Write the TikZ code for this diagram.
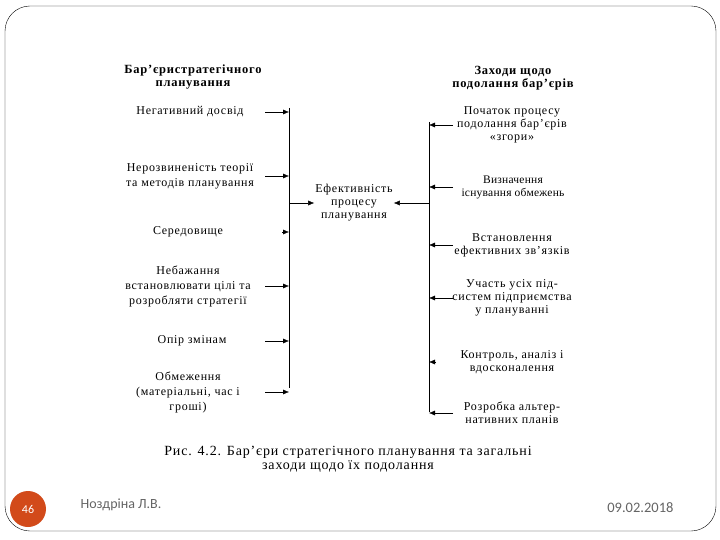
\documentclass[tikz,border=0pt]{standalone}
\usepackage{fontspec}
\setmainfont{Liberation Serif}
\newfontfamily\widefont[LetterSpace=6]{Liberation Serif}
\newfontfamily\tightfont[LetterSpace=2]{Liberation Serif}
\newfontfamily\footfont{Carlito}
\usetikzlibrary{arrows.meta,positioning}
\definecolor{slideorange}{RGB}{210,74,26}
\definecolor{footgray}{RGB}{100,100,100}

\begin{document}
\begin{tikzpicture}[
    x=1pt, y=-1pt,
    item/.style={align=center, font=\widefont\fontsize{12}{13}\selectfont, inner sep=1pt},
    litem/.style={item, font=\widefont\fontsize{12}{15}\selectfont},
    head/.style={item, font=\widefont\fontsize{12.5}{12.5}\selectfont\bfseries},
    arrow/.style={-{Latex[length=6pt,width=5pt]}, thin},
    bar/.style={thin},
  ]
  \useasboundingbox (0,0) rectangle (720,540);
  % slide frame
  \draw[thin, rounded corners=25pt] (5,6) rectangle (716,531);

  % barriers
  \node[head] (hl) at (193,77) {Бар’єристратегічного\\планування};
  \node[litem] (b1) at (190,112) {Негативний досвід};
  \node[litem] (b2) at (190,176) {Нерозвиненість теорії\\та методів планування};
  \node[litem] (b3) at (188,232) {Середовище};
  \node[litem] (b4) at (188,286) {Небажання\\встановлювати цілі та\\розробляти стратегії};
  \node[litem] (b5) at (192,341) {Опір змінам};
  \node[litem] (b6) at (188,392) {Обмеження\\(матеріальні, час і\\гроші)};

  % measures
  \node[head] (hr) at (513,78) {Заходи щодо\\подолання бар’єрів};
  \node[item] (m1) at (512,125) {Початок процесу\\подолання бар’єрів\\«згори»};
  \node[item, font=\tightfont\fontsize{11.5}{13}\selectfont] (m2) at (513,187) {Визначення\\існування обмежень};
  \node[item] (m3) at (512,245) {Встановлення\\ефективних зв’язків};
  \node[item] (m4) at (512,298) {Участь усіх під-\\систем підприємства\\у плануванні};
  \node[item] (m5) at (512,362) {Контроль, аналіз і\\вдосконалення};
  \node[item] (m6) at (512,413) {Розробка альтер-\\нативних планів};

  % effect
  \node[item] (eff) at (354,203) {Ефективність\\процесу\\планування};

  % collecting bars
  \coordinate (lt) at (289,108);
  \coordinate (lb) at (289,388);
  \coordinate (rt) at (429,122);
  \coordinate (rb) at (429,412);
  \coordinate (ltail) at (265,0);
  \coordinate (rtail) at (453,0);
  \draw[bar] (lt) -- (lb);
  \draw[bar] (rt) -- (rb);

  \draw[arrow] (b1.east -| ltail) -- (b1.east -| lt);
  \draw[arrow] (b2.east -| ltail) -- (b2.east -| lt);
  \draw[arrow] ([xshift=-7pt]b3.east -| lt) -- (b3.east -| lt);
  \draw[arrow] (b4.east -| ltail) -- (b4.east -| lt);
  \draw[arrow] (b5.east -| ltail) -- (b5.east -| lt);
  \draw[arrow] (b6.east -| ltail) -- (b6.east -| lt);

  \draw[arrow] (m1.west -| rtail) -- (m1.west -| rt);
  \draw[arrow] (m2.west -| rtail) -- (m2.west -| rt);
  \draw[arrow] (m3.west -| rtail) -- (m3.west -| rt);
  \draw[arrow] (m4.west -| rtail) -- (m4.west -| rt);
  \draw[arrow] ([xshift=7pt]m5.west -| rt) -- (m5.west -| rt);
  \draw[arrow] (m6.west -| rtail) -- (m6.west -| rt);

  \draw[arrow] (eff.west -| lt) -- (eff.west);
  \draw[arrow] (eff.east -| rt) -- (eff.east);

  % caption
  \node[item, font=\widefont\fontsize{14}{14}\selectfont] (cap) at (348,459) {Рис. 4.2. Бар’єри стратегічного планування та загальні\\заходи щодо їх подолання};

  % footer
  \node[circle, fill=slideorange, minimum size=36pt, inner sep=0pt, text=white,
        font=\footfont\fontsize{12}{14}\selectfont] (pg) at (28,509) {46};
  \node[anchor=west, text=footgray, font=\footfont\fontsize{14}{16}\selectfont] (auth) at (77,505) {Ноздріна Л.В.};
  \node[anchor=east, text=footgray, font=\footfont\fontsize{14.5}{16}\selectfont] (date) at (677,508) {09.02.2018};
\end{tikzpicture}
\end{document}
